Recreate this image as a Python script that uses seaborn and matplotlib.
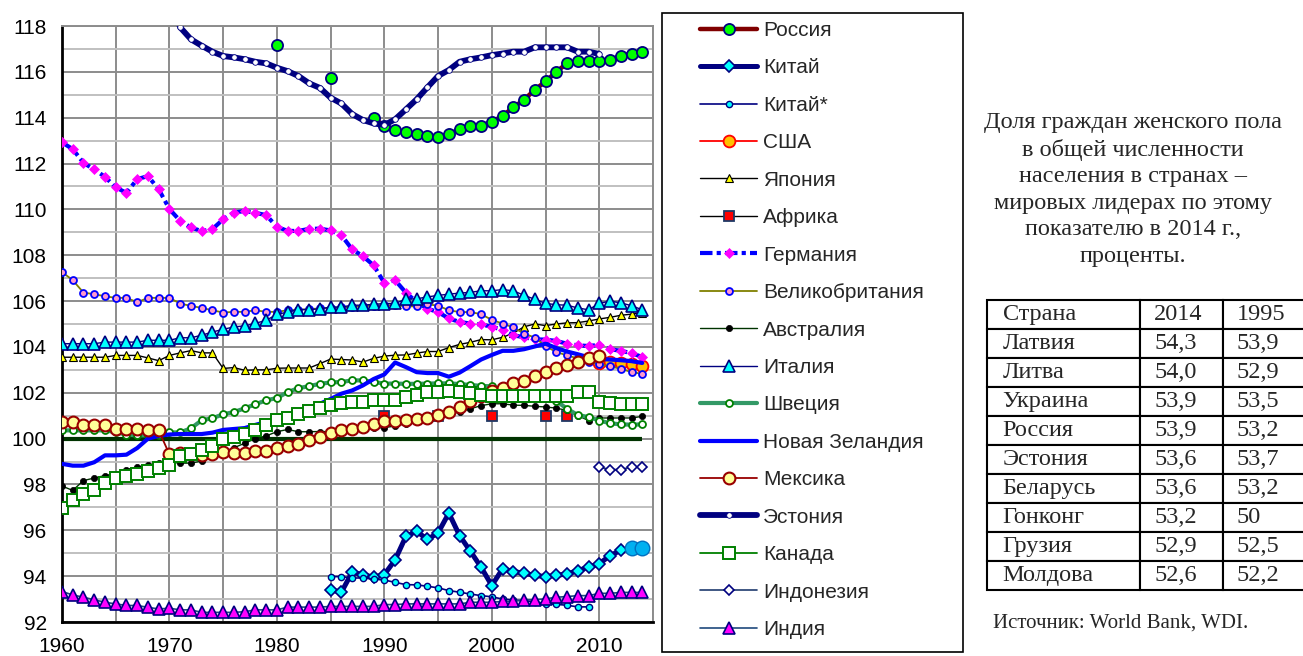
import numpy as np
import pandas as pd
import matplotlib.pyplot as plt
import seaborn as sns
from matplotlib.lines import Line2D
from matplotlib.patches import Rectangle
from matplotlib.ticker import MultipleLocator, FuncFormatter

nan = np.nan

# Number of women per 100 men. Each series: first year + yearly values (nan = no data)
russia_start = 1980
russia = [117.15, nan, nan, nan, nan, 115.75, nan, nan, nan, 114.0,
          113.63, 113.46, 113.37, 113.28, 113.21, 113.14, 113.28, 113.49, 113.65, 113.65,
          113.82, 114.08, 114.45, 114.78, 115.22, 115.58, 116.0, 116.37, 116.46, 116.46,
          116.46, 116.52, 116.7, 116.8, 116.88]

china_start = 1985
china = [93.4, 93.3, 94.17, 94.07, 93.95, 94.07, 94.71, 95.73, 95.96, 95.6,
         95.89, 96.75, 95.77, 95.09, 94.39, 93.59, 94.32, 94.2, 94.13, 94.03,
         93.98, 94.03, 94.1, 94.24, 94.39, 94.54, 94.9, 95.12, 95.22, 95.22]

china2_start = 1985
china2 = [93.98, 93.98, 93.92, 93.92, 93.87, 93.83, 93.73, 93.63, 93.62, 93.56,
          93.49, 93.37, 93.3, 93.22, 93.15, 93.1, 93.0, 92.96, 92.93, 92.88,
          92.8, 92.77, 92.73, 92.66, 92.66]

usa_start = 2010
usa = [103.3, 103.36, 103.3, 103.25, 103.16]

japan_start = 1960
japan = [103.55, 103.55, 103.55, 103.55, 103.55, 103.63, 103.63, 103.63, 103.52, 103.4,
         103.63, 103.74, 103.84, 103.74, 103.74, 103.06, 103.1, 102.98, 103.0, 103.0,
         103.07, 103.08, 103.08, 103.08, 103.27, 103.47, 103.45, 103.43, 103.34, 103.5,
         103.6, 103.64, 103.65, 103.73, 103.8, 103.8, 103.97, 104.11, 104.2, 104.32,
         104.31, 104.42, 104.6, 104.88, 105.0, 104.93, 105.0, 105.05, 105.06, 105.13,
         105.22, 105.29, 105.38, 105.43, 105.5]

africa_start = 1990
africa = [101.0, nan, nan, nan, nan, 101.0, nan, nan, nan, nan,
          101.0, nan, nan, nan, nan, 101.0, nan, 101.0]

germany_start = 1960
germany = [112.92, 112.63, 112.03, 111.74, 111.42, 110.96, 110.72, 111.32, 111.45, 110.88,
           110.01, 109.5, 109.21, 109.05, 109.14, 109.57, 109.86, 109.93, 109.85, 109.75,
           109.24, 109.06, 109.06, 109.15, 109.16, 109.08, 108.87, 108.26, 107.96, 107.56,
           106.79, 106.91, 106.37, 105.96, 105.67, 105.52, 105.24, 105.09, 105.02, 104.98,
           104.88, 104.75, 104.51, 104.42, 104.33, 104.32, 104.26, 104.14, 104.07, 104.04,
           104.09, 103.9, 103.83, 103.73, 103.56]

uk_start = 1960
uk = [107.27, 106.91, 106.37, 106.3, 106.21, 106.14, 106.14, 105.95, 106.14, 106.14,
      106.14, 105.89, 105.79, 105.7, 105.6, 105.5, 105.53, 105.53, 105.6, 105.53,
      105.53, 105.6, 105.62, 105.65, 105.68, 105.7, 105.72, 105.75, 105.78, 105.8,
      105.82, 105.82, 105.77, 105.77, 105.86, 105.8, 105.6, 105.52, 105.52, 105.43,
      105.18, 105.02, 104.85, 104.58, 104.41, 104.03, 103.78, 103.63, 103.5, 103.36,
      103.25, 103.15, 103.05, 102.9, 102.83]

australia_start = 1960
australia = [97.93, 97.74, 98.17, 98.28, 98.39, 98.47, 98.65, 98.76, 98.85, 98.93,
             98.97, 98.93, 98.93, 99.02, 99.2, 99.4, 99.6, 99.8, 100.0, 100.12,
             100.3, 100.4, 100.3, 100.3, 100.31, 100.3, 100.32, 100.35, 100.4, 100.45,
             100.48, 100.55, 100.65, 100.75, 100.85, 100.95, 101.05, 101.16, 101.3, 101.44,
             101.52, 101.52, 101.46, 101.45, 101.41, 101.38, 101.33, 101.23, 101.0, 100.79,
             100.9, 100.9, 100.9, 100.9, 100.97]

italy_start = 1960
italy = [104.14, 104.14, 104.14, 104.14, 104.21, 104.21, 104.21, 104.21, 104.29, 104.29,
         104.29, 104.4, 104.4, 104.51, 104.65, 104.77, 104.87, 104.92, 105.03, 105.16,
         105.42, 105.52, 105.63, 105.63, 105.66, 105.74, 105.74, 105.82, 105.82, 105.86,
         105.89, 105.9, 106.08, 106.1, 106.18, 106.25, 106.3, 106.35, 106.38, 106.45,
         106.45, 106.5, 106.45, 106.25, 106.08, 105.9, 105.84, 105.82, 105.7, 105.62,
         105.9, 106.0, 105.92, 105.8, 105.62]

sweden_start = 1960
sweden = [100.36, 100.36, 100.36, 100.36, 100.36, 100.28, 100.17, 100.14, 100.14, 100.17,
          100.27, 100.27, 100.45, 100.8, 100.89, 101.06, 101.16, 101.32, 101.5, 101.67,
          101.77, 102.03, 102.2, 102.29, 102.39, 102.45, 102.47, 102.54, 102.54, 102.47,
          102.4, 102.4, 102.39, 102.39, 102.4, 102.41, 102.41, 102.38, 102.34, 102.3,
          102.28, 102.15, 102.05, 101.95, 101.88, 101.8, 101.65, 101.3, 101.03, 100.94,
          100.79, 100.67, 100.62, 100.61, 100.62]

nz_start = 1960
nz = [98.9, 98.82, 98.82, 98.97, 99.27, 99.27, 99.3, 99.59, 100.0, 100.12,
      100.18, 100.2, 100.2, 100.2, 100.26, 100.38, 100.42, 100.46, 100.6, 100.72,
      100.85, 100.98, 101.15, 101.3, 101.52, 101.73, 101.96, 102.1, 102.32, 102.6,
      102.8, 103.32, 103.12, 102.9, 102.86, 102.86, 102.7, 102.88, 103.16, 103.45,
      103.65, 103.83, 103.83, 103.9, 104.02, 104.14, 103.95, 103.8, 103.68, 103.55,
      103.48, 103.45, 103.42, 103.38, 103.3]

mexico_start = 1960
mexico = [100.72, 100.72, 100.6, 100.6, 100.6, 100.43, 100.43, 100.43, 100.38, 100.36,
          99.31, 99.37, 99.34, 99.27, 99.34, 99.41, 99.38, 99.38, 99.48, 99.48,
          99.6, 99.66, 99.78, 99.92, 100.05, 100.25, 100.36, 100.43, 100.5, 100.65,
          100.75, 100.79, 100.81, 100.84, 100.92, 101.03, 101.18, 101.4, 101.63, 101.85,
          102.06, 102.22, 102.42, 102.51, 102.74, 102.92, 103.07, 103.2, 103.34, 103.5,
          103.6]

estonia_start = 1970
estonia = [119.2, 117.94, 117.42, 117.14, 116.88, 116.69, 116.63, 116.55, 116.44, 116.37,
           116.18, 116.03, 115.82, 115.5, 115.3, 114.87, 114.62, 114.16, 113.9, 113.75,
           113.68, 113.93, 114.36, 114.8, 115.32, 115.82, 116.08, 116.44, 116.55, 116.63,
           116.73, 116.8, 116.88, 116.88, 117.07, 117.07, 117.07, 117.07, 116.88, 116.88,
           116.78]

canada_start = 1960
canada = [96.97, 97.33, 97.59, 97.77, 98.07, 98.29, 98.36, 98.47, 98.58, 98.73,
          98.87, 99.22, 99.31, 99.51, 99.66, 100.0, 100.07, 100.2, 100.37, 100.59,
          100.8, 100.9, 101.07, 101.2, 101.35, 101.48, 101.55, 101.59, 101.59, 101.67,
          101.67, 101.67, 101.8, 101.89, 102.03, 102.03, 102.06, 102.05, 101.97, 101.9,
          101.84, 101.84, 101.84, 101.84, 101.84, 101.84, 101.84, 101.84, 102.03, 102.03,
          101.59, 101.55, 101.5, 101.5, 101.5]

indonesia_start = 2010
indonesia = [98.76, 98.65, 98.65, 98.76, 98.76]

india_start = 1960
india = [93.33, 93.18, 93.08, 92.97, 92.86, 92.79, 92.72, 92.72, 92.64, 92.57,
         92.6, 92.53, 92.53, 92.42, 92.42, 92.42, 92.42, 92.45, 92.53, 92.53,
         92.53, 92.65, 92.65, 92.65, 92.65, 92.68, 92.68, 92.68, 92.68, 92.68,
         92.76, 92.76, 92.79, 92.79, 92.79, 92.79, 92.79, 92.79, 92.86, 92.86,
         92.86, 92.9, 92.9, 92.97, 92.97, 93.01, 93.08, 93.11, 93.15, 93.15,
         93.25, 93.25, 93.29, 93.29, 93.29]

parity_level = 100

# Table on the right
table_header = ['Страна', '2014', '1995']
table_countries = ['Латвия', 'Литва', 'Украина', 'Россия', 'Эстония',
                   'Беларусь', 'Гонконг', 'Грузия', 'Молдова']
table_2014 = ['54,3', '54,0', '53,9', '53,9', '53,6', '53,6', '53,2', '52,9', '52,6']
table_1995 = ['53,9', '52,9', '53,5', '53,2', '53,7', '53,2', '50', '52,5', '52,2']

# Series: label, start year, values, line style
navy = '#000080'
series = [
    ('Россия', russia_start, russia,
     dict(color='#800000', lw=3.2, marker='o', ms=8, mfc='#00ff00', mec=navy, mew=1.3)),
    ('Китай', china_start, china,
     dict(color=navy, lw=3.6, marker='D', ms=6.5, mfc='#00ffff', mec=navy, mew=1.2)),
    ('Китай*', china2_start, china2,
     dict(color=navy, lw=1.2, marker='o', ms=4.5, mfc='#00ffff', mec=navy, mew=1.0)),
    ('США', usa_start, usa,
     dict(color='#ff0000', lw=1.3, marker='o', ms=8.5, mfc='#ffc000', mec='#ff0000', mew=1.3)),
    ('Япония', japan_start, japan,
     dict(color='black', lw=1.0, marker='^', ms=5.5, mfc='#ffff00', mec='black', mew=0.8)),
    ('Африка', africa_start, africa,
     dict(color='black', lw=1.0, marker='s', ms=7, mfc='#ff0000', mec='#1f3864', mew=1.3)),
    ('Германия', germany_start, germany,
     dict(color='#0000ff', lw=3.0, ls=(0, (3, 1, 1, 1)), marker='D', ms=5,
          mfc='#ff00ff', mec='#ff00ff', mew=0.5)),
    ('Великобритания', uk_start, uk,
     dict(color='#808000', lw=1.3, marker='o', ms=5, mfc='#ff99cc', mec='#0000ff', mew=1.3)),
    ('Австралия', australia_start, australia,
     dict(color='#003300', lw=1.0, marker='o', ms=4.5, mfc='black', mec='black', mew=0.5)),
    ('Италия', italy_start, italy,
     dict(color=navy, lw=1.0, marker='^', ms=8, mfc='#00ffff', mec=navy, mew=1.2)),
    ('Швеция', sweden_start, sweden,
     dict(color='#339966', lw=3.0, marker='o', ms=5, mfc='white', mec='#008000', mew=1.3)),
    ('Новая Зеландия', nz_start, nz,
     dict(color='#0000ff', lw=3.0)),
    ('Мексика', mexico_start, mexico,
     dict(color='#990000', lw=1.3, marker='o', ms=8.5, mfc='#ffff99', mec='#990000', mew=1.5)),
    ('Эстония', estonia_start, estonia,
     dict(color=navy, lw=4.2, marker='o', ms=4, mfc='white', mec=navy, mew=0.6)),
    ('Канада', canada_start, canada,
     dict(color='#008000', lw=1.3, marker='s', ms=8, mfc='white', mec='#008000', mew=1.4)),
    ('Индонезия', indonesia_start, indonesia,
     dict(color='#1f3b6e', lw=1.2, marker='D', ms=5, mfc='white', mec=navy, mew=1.2)),
    ('Индия', india_start, india,
     dict(color='#1f497d', lw=1.2, marker='^', ms=8, mfc='#ff00ff', mec=navy, mew=1.2)),
]

sns.set_style('white')
plt.rcParams['font.family'] = ['Liberation Sans', 'DejaVu Sans']

W, H = 1303, 656
fig = plt.figure(figsize=(W / 100, H / 100), dpi=100)
ax = fig.add_axes([62 / W, (H - 622) / H, 591 / W, 596 / H])


def draw(start, values, style, zorder):
    s = pd.Series(values, index=np.arange(start, start + len(values)), dtype=float)
    runs = s.isna().cumsum()[s.notna()]
    for _, run in s.dropna().groupby(runs):
        sns.lineplot(x=run.index, y=run.values, ax=ax, estimator=None, sort=False,
                     legend=False, zorder=zorder, **style)


# parity line at 100
ax.hlines(parity_level, 1960, 2014, color='#003300', lw=3, zorder=2)

for i, (label, start, values, style) in enumerate(series):
    st = dict(style)
    if label == 'Китай':
        # last two points drawn with round markers
        st['markevery'] = list(range(len(values) - 2))
    draw(start, values, st, zorder=3 + i)

# round markers for the last China points
china_years = np.arange(china_start, china_start + len(china))
sns.scatterplot(x=china_years[-2:], y=china[-2:], ax=ax, s=110, color='#00b0f0',
                edgecolor='#0070c0', linewidth=1, zorder=30, legend=False)

# axes
ax.set_xlim(1960, 2015)
ax.set_ylim(92, 118)
ax.xaxis.set_major_locator(MultipleLocator(10))
ax.xaxis.set_minor_locator(MultipleLocator(5))
ax.yaxis.set_major_locator(MultipleLocator(2))
ax.yaxis.set_minor_locator(MultipleLocator(1))
ax.xaxis.set_major_formatter(FuncFormatter(lambda v, p: f'{int(v)}'))
ax.set_xlabel('')
ax.set_ylabel('')

ax.set_axisbelow(True)
ax.grid(True, which='major', axis='y', color='#8c8c8c', lw=1.4)
ax.grid(True, which='minor', axis='y', color='#c0c0c0', lw=1.4)
ax.grid(True, which='both', axis='x', color='#8c8c8c', lw=1.4)

ax.tick_params(axis='both', which='major', direction='out', length=4, width=1.5,
               colors='black', labelsize=15)
ax.tick_params(axis='y', which='major', pad=7)
ax.tick_params(axis='x', which='major', pad=6.5)
ax.tick_params(axis='x', which='minor', direction='out', length=4, width=1.5, color='black')
ax.tick_params(axis='y', which='minor', direction='out', length=2.5, width=1.5, color='black')

for side in ['left', 'bottom']:
    ax.spines[side].set_color('black')
    ax.spines[side].set_linewidth(2)
for side in ['top', 'right']:
    ax.spines[side].set_color('#8c8c8c')
    ax.spines[side].set_linewidth(1.4)
    ax.spines[side].set_visible(True)

# legend in a separate framed box
fig.add_artist(Rectangle((662 / W, (H - 652) / H), 301 / W, 639 / H, transform=fig.transFigure,
                         fill=False, edgecolor='black', lw=1.2))
handles = [Line2D([], [], **style) for _, _, _, style in series]
labels = [s[0] for s in series]
fig.legend(handles, labels, loc='upper left', bbox_to_anchor=(700 / W, 1 - 21 / H),
           frameon=False, fontsize=15, handlelength=2.74, handletextpad=0.29,
           labelspacing=0.885, borderpad=0, borderaxespad=0)

# caption on the right
serif = ['Liberation Serif', 'DejaVu Serif']
fig.text(1133 / W, 1 - 112 / H,
         'Доля граждан женского пола\nв общей численности\nнаселения в странах –\n'
         'мировых лидерах по этому\nпоказателю в 2014 г.,\nпроценты.',
         ha='center', va='top', fontsize=17.5, family=serif, linespacing=1.34)

# table (right border falls at the image edge)
tax = fig.add_axes([987 / W, (H - 590) / H, 318 / W, 290 / H])
tax.axis('off')
cells = [table_header] + [[c, a, b] for c, a, b in zip(table_countries, table_2014, table_1995)]
col_px = [153, 83, 82]
pad_px = [15.5, 14, 13.5]
tbl = tax.table(cellText=cells, cellLoc='left', bbox=[0, 0, 1, 1],
                colWidths=[c / sum(col_px) for c in col_px])
tbl.auto_set_font_size(False)
for (r, c), cell in tbl.get_celld().items():
    cell.set_linewidth(1.5)
    cell.set_edgecolor('black')
    cell.PAD = pad_px[c] / col_px[c]
    cell.get_text().set_fontsize(17.5)
    cell.get_text().set_family(serif)
    cell.set_clip_on(False)

fig.text(993 / W, 1 - 623 / H, 'Источник: World Bank, WDI.', ha='left', va='center',
         fontsize=15, family=serif)

fig.savefig('out.png', dpi=100)
